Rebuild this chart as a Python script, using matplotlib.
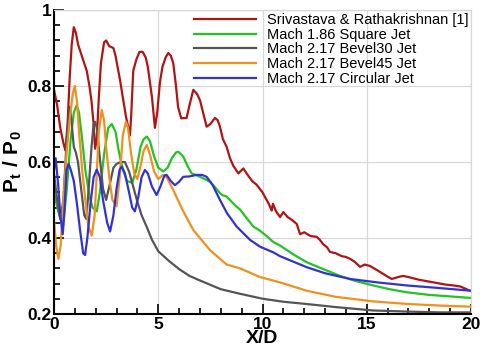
import matplotlib
matplotlib.use('Agg')
import matplotlib.pyplot as plt
from matplotlib.ticker import MultipleLocator

plt.rcParams['font.family'] = ['Liberation Sans', 'DejaVu Sans']
plt.rcParams['mathtext.fontset'] = 'custom'
plt.rcParams['mathtext.rm'] = 'Liberation Sans'
plt.rcParams['mathtext.bf'] = 'Liberation Sans:bold'

# ---- data (X/D, Pt/P0) ----
red_x = [0.0, 0.15, 0.3, 0.45, 0.55, 0.65, 0.75, 0.85, 0.95, 1.05, 1.15, 1.3, 1.45, 1.57, 1.7, 1.8, 1.9, 1.97,
         2.05, 2.15, 2.25, 2.4, 2.5, 2.65, 2.85, 2.95, 3.05, 3.17, 3.3, 3.45, 3.64, 3.7, 3.8, 3.95, 4.1, 4.25,
         4.4, 4.5, 4.6, 4.7, 4.84, 4.95, 5.08, 5.2, 5.35, 5.48, 5.6, 5.72, 5.85, 5.95, 6.1, 6.36, 6.5, 6.68,
         6.85, 7.0, 7.15, 7.32, 7.5, 7.72, 7.85, 7.96, 8.1, 8.28, 8.44, 8.6, 8.84, 9.08, 9.3, 9.5, 9.72, 10.0,
         10.3, 10.44, 10.5, 10.65, 10.84, 11.0, 11.2, 11.4, 11.64, 11.8, 12.0, 12.3, 12.6, 12.75, 12.9, 13.1,
         13.24, 13.5, 13.8, 14.0, 14.2, 14.4, 14.68, 14.9, 15.16, 15.5, 15.8, 16.0, 16.2, 16.5, 16.74, 17.0,
         17.5, 18.0, 18.5, 18.8, 19.14, 19.5, 19.95]
red_y = [0.79, 0.75, 0.69, 0.65, 0.63, 0.70, 0.82, 0.91, 0.955, 0.94, 0.91, 0.885, 0.86, 0.84, 0.80, 0.76, 0.70, 0.635,
         0.66, 0.77, 0.86, 0.915, 0.92, 0.905, 0.90, 0.88, 0.85, 0.815, 0.77, 0.72, 0.67, 0.72, 0.84, 0.87, 0.89, 0.89,
         0.875, 0.85, 0.81, 0.77, 0.69, 0.73, 0.81, 0.85, 0.875, 0.887, 0.88, 0.86, 0.80, 0.745, 0.715, 0.716, 0.75, 0.79,
         0.78, 0.763, 0.73, 0.693, 0.70, 0.716, 0.71, 0.693, 0.66, 0.64, 0.61, 0.59, 0.57, 0.583, 0.565, 0.55, 0.54, 0.52,
         0.49, 0.472, 0.49, 0.47, 0.455, 0.468, 0.455, 0.448, 0.437, 0.41, 0.415, 0.405, 0.403, 0.395, 0.384, 0.375,
         0.363, 0.36, 0.352, 0.35, 0.345, 0.338, 0.324, 0.33, 0.326, 0.315, 0.305, 0.298, 0.292, 0.297, 0.30, 0.297,
         0.29, 0.285, 0.28, 0.277, 0.275, 0.272, 0.261]

green_x = [0.0, 0.2, 0.43, 0.6, 0.8, 0.95, 1.09, 1.2, 1.35, 1.5, 1.7, 1.85, 2.05, 2.2, 2.4, 2.6, 2.77, 2.95, 3.1,
           3.3, 3.5, 3.75, 3.95, 4.15, 4.3, 4.45, 4.6, 4.8, 5.0, 5.24, 5.45, 5.65, 5.85, 5.96, 6.1, 6.2, 6.4, 6.6,
           6.8, 7.0, 7.3, 7.48, 7.7, 7.96, 8.1, 8.25, 8.44, 8.7, 8.92, 9.2, 9.56, 9.88, 10.2, 10.5, 10.84, 11.5,
           12.12, 13.0, 13.72, 14.5, 15.3, 16.1, 16.9, 18.0, 19.0, 20.0]
green_y = [0.52, 0.47, 0.43, 0.52, 0.66, 0.73, 0.75, 0.73, 0.66, 0.58, 0.51, 0.48, 0.47, 0.52, 0.62, 0.69, 0.70, 0.68, 0.63,
           0.58, 0.55, 0.545, 0.58, 0.64, 0.66, 0.667, 0.655, 0.615, 0.585, 0.575, 0.585, 0.61, 0.625, 0.627, 0.62, 0.614, 0.59, 0.57,
           0.566, 0.561, 0.553, 0.548, 0.535, 0.518, 0.512, 0.51, 0.50, 0.485, 0.475, 0.455, 0.43, 0.419, 0.405, 0.39, 0.38, 0.356,
           0.336, 0.316, 0.30, 0.286, 0.275, 0.265, 0.257, 0.25, 0.246, 0.242]

gray_x = [0.0, 0.15, 0.3, 0.45, 0.6, 0.7, 0.77, 0.85, 0.95, 1.05, 1.15, 1.3, 1.45, 1.55, 1.65, 1.8, 1.9, 1.97, 2.05,
          2.2, 2.35, 2.5, 2.69, 2.85, 3.0, 3.2, 3.4, 3.6, 3.8, 4.0, 4.2, 4.44, 4.7, 5.0, 5.5, 6.0, 6.5, 7.0, 8.0,
          8.92, 10.0, 11.0, 12.12, 13.5, 15.3, 17.0, 18.5, 20.0]
gray_y = [0.57, 0.50, 0.45, 0.50, 0.65, 0.72, 0.745, 0.70, 0.64, 0.625, 0.60, 0.53, 0.46, 0.45, 0.52, 0.64, 0.70, 0.706, 0.69,
          0.61, 0.53, 0.50, 0.545, 0.585, 0.595, 0.60, 0.60, 0.575, 0.535, 0.495, 0.46, 0.43, 0.395, 0.365, 0.34, 0.318, 0.30, 0.288, 0.265,
          0.253, 0.24, 0.232, 0.226, 0.218, 0.209, 0.206, 0.204, 0.204]

orange_x = [0.0, 0.1, 0.21, 0.32, 0.45, 0.6, 0.75, 0.9, 1.0, 1.1, 1.2, 1.35, 1.5, 1.65, 1.81, 1.95, 2.05, 2.15, 2.29,
            2.4, 2.5, 2.65, 2.8, 3.0, 3.15, 3.3, 3.45, 3.55, 3.7, 3.85, 4.0, 4.15, 4.3, 4.45, 4.6, 4.8, 5.0, 5.2,
            5.4, 5.72, 6.2, 6.68, 7.48, 8.28, 8.92, 9.88, 10.84, 12.12, 13.5, 15.3, 17.0, 18.5, 20.0]
orange_y = [0.45, 0.38, 0.345, 0.38, 0.50, 0.62, 0.71, 0.78, 0.80, 0.76, 0.68, 0.58, 0.50, 0.43, 0.406, 0.46, 0.57, 0.68, 0.737,
            0.71, 0.64, 0.56, 0.50, 0.483, 0.56, 0.67, 0.706, 0.69, 0.62, 0.57, 0.555, 0.59, 0.63, 0.645, 0.62, 0.575, 0.555, 0.565,
            0.56, 0.526, 0.47, 0.421, 0.368, 0.33, 0.32, 0.297, 0.283, 0.261, 0.245, 0.233, 0.226, 0.222, 0.219]

blue_x = [0.0, 0.08, 0.2, 0.3, 0.42, 0.5, 0.6, 0.7, 0.8, 0.95, 1.1, 1.25, 1.4, 1.49, 1.6, 1.75, 1.9, 2.05, 2.2, 2.35,
          2.55, 2.69, 2.85, 3.0, 3.15, 3.25, 3.4, 3.6, 3.75, 3.88, 4.05, 4.2, 4.36, 4.5, 4.7, 4.92, 5.1, 5.3, 5.4,
          5.6, 5.8, 6.0, 6.2, 6.5, 6.84, 7.1, 7.32, 7.6, 7.96, 8.3, 8.76, 9.4, 9.88, 10.52, 10.84, 11.5, 12.12,
          13.0, 14.2, 15.5, 16.9, 18.5, 20.0]
blue_y = [0.58, 0.61, 0.54, 0.46, 0.41, 0.47, 0.58, 0.595, 0.58, 0.55, 0.49, 0.42, 0.36, 0.355, 0.40, 0.49, 0.56, 0.58, 0.56, 0.50,
          0.44, 0.417, 0.46, 0.53, 0.58, 0.588, 0.57, 0.52, 0.48, 0.47, 0.51, 0.56, 0.579, 0.57, 0.535, 0.513, 0.535, 0.565, 0.566,
          0.55, 0.539, 0.548, 0.561, 0.562, 0.566, 0.566, 0.561, 0.54, 0.50, 0.465, 0.43, 0.395, 0.377, 0.362, 0.352, 0.337, 0.323,
          0.307, 0.292, 0.283, 0.275, 0.268, 0.261]

labels = ['Srivastava & Rathakrishnan [1]', 'Mach 1.86 Square Jet', 'Mach 2.17 Bevel30 Jet',
          'Mach 2.17 Bevel45 Jet', 'Mach 2.17 Circular Jet']
colors = ['#b01414', '#22c322', '#555555', '#f0901e', '#3232d2']

fig = plt.figure(figsize=(4.8, 3.48), dpi=100)
ax = fig.add_axes([0.1125, 0.098, 0.8688, 0.873])

series = [(red_x, red_y), (green_x, green_y), (gray_x, gray_y), (orange_x, orange_y), (blue_x, blue_y)]
for (xs, ys), lab, c in zip(series, labels, colors):
    ax.plot(xs, ys, color=c, lw=1.6, label=lab)

ax.set_xlim(0, 20)
ax.set_ylim(0.2, 1.0)
ax.xaxis.set_major_locator(MultipleLocator(5))
ax.xaxis.set_minor_locator(MultipleLocator(1))
ax.yaxis.set_minor_locator(MultipleLocator(0.04))
ax.set_yticks([0.2, 0.4, 0.6, 0.8, 1.0])
ax.set_yticklabels(['0.2', '0.4', '0.6', '0.8', '1'])
ax.tick_params(which='both', direction='in', top=False, right=False, width=1.2)
ax.tick_params(which='major', length=7, labelsize=12.5, pad=2)
ax.tick_params(which='minor', length=4)
for t in ax.get_xticklabels() + ax.get_yticklabels():
    t.set_fontweight('bold')

ax.grid(True, which='major', color='#d8d8d8', lw=0.9)
ax.set_axisbelow(True)
for s in ['left', 'bottom']:
    ax.spines[s].set_linewidth(1.5)
for s in ['top', 'right']:
    ax.spines[s].set_color('#d8d8d8')
    ax.spines[s].set_linewidth(0.9)

ax.set_xlabel('X/D', fontsize=14, fontweight='bold', labelpad=-1)
ax.set_ylabel(r'$\mathbf{P_t\ /\ P_0}$', fontsize=15, labelpad=2)

ax.legend(loc='upper right', bbox_to_anchor=(1.0, 1.0), frameon=False, fontsize=10.5,
          handlelength=4.2, handletextpad=0.75, labelspacing=0.05, borderpad=0.1, borderaxespad=0.1)

fig.savefig('out.png', dpi=100)
